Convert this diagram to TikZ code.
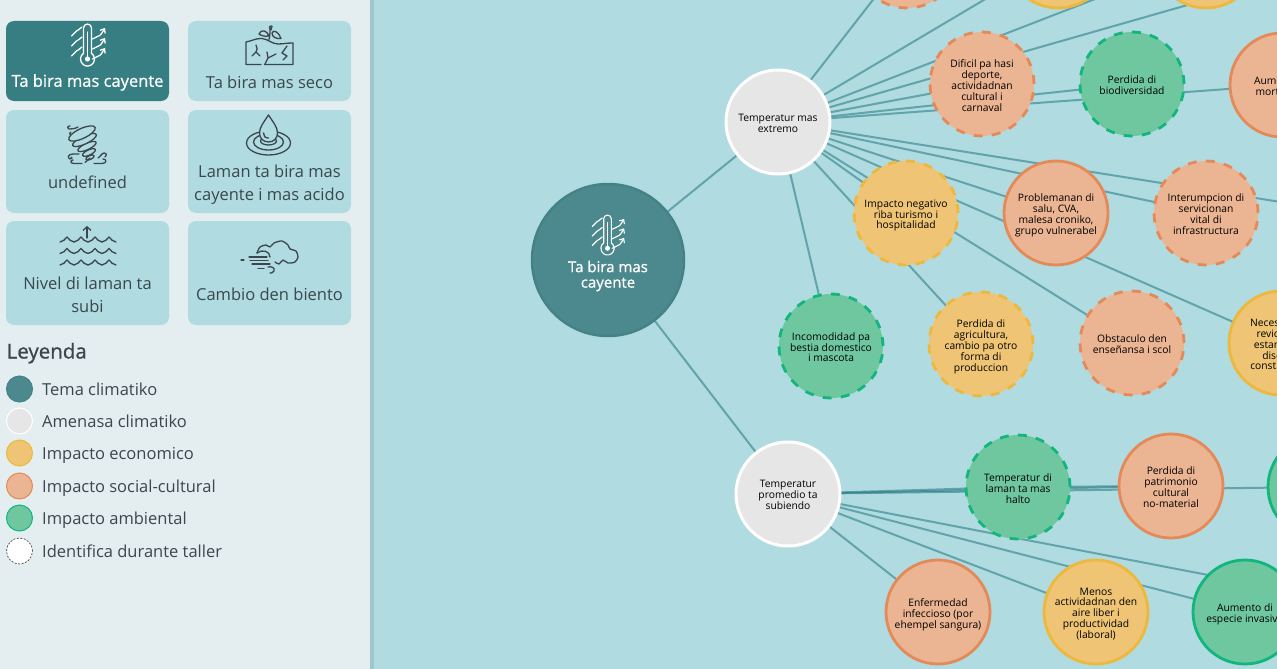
\documentclass[tikz,border=0pt]{standalone}
\usepackage{fontspec}
\setmainfont{Open Sans}
\newfontfamily\semib[FakeBold=0.9]{Open Sans}
\usetikzlibrary{arrows.meta}
\newcommand\bubtext[1]{\raisebox{-2.8pt}[\height][\depth]{\begin{tabular}{@{}c@{}}#1\end{tabular}}}
\setlength{\tabcolsep}{0pt}
\definecolor{bgc}{HTML}{B0DBE0}
\definecolor{side}{HTML}{E4EEF0}
\definecolor{shad}{HTML}{9FC7CD}
\definecolor{sel}{HTML}{367E82}
\definecolor{inkc}{HTML}{3B474C}
\definecolor{edgec}{HTML}{2F8088}
\definecolor{mainf}{HTML}{4B898E}
\definecolor{mains}{HTML}{438287}
\definecolor{thr}{HTML}{E6E6E6}
\definecolor{ecof}{HTML}{EFC575}
\definecolor{ecos}{HTML}{ECB83E}
\definecolor{socf}{HTML}{EBB492}
\definecolor{socs}{HTML}{E48A59}
\definecolor{envf}{HTML}{6FC7A0}
\definecolor{envs}{HTML}{12B67D}
\pgfdeclarelayer{under}
\pgfdeclarelayer{bgl}
\pgfsetlayers{bgl,under,main}
\tikzset{
  card/.style={fill=bgc,rounded corners=8,draw=none,inner sep=0,outer sep=0},
  cardsel/.style={fill=sel,rounded corners=8,draw=none,inner sep=0,outer sep=0},
  cardtxt/.style={text=inkc,font=\fontsize{16.5}{23}\selectfont,align=center,inner sep=0},
  cardseltxt/.style={text=white,font=\semib\fontsize{16.5}{23}\selectfont,align=center,inner sep=0},
  legc/.style={circle,minimum size=26,inner sep=0,outer sep=0,line width=1},
  legt/.style={anchor=base west,text=inkc,font=\fontsize{16.5}{20}\selectfont,inner sep=0},
  bub/.style={circle,minimum size=104,inner sep=0,outer sep=0,line width=2.8,text=black,font=\fontsize{10.3}{10.4}\selectfont},
  threat/.style={bub,fill=thr,draw=white,line width=3},
  eco/.style={bub,fill=ecof,draw=ecos},
  soc/.style={bub,fill=socf,draw=socs},
  env/.style={bub,fill=envf,draw=envs},
  wshop/.style={dash pattern=on 9pt off 9.2pt},
  link/.style={draw=edgec,draw opacity=.6,line width=2},
  ico/.style={line width=1.3,line cap=round,line join=round,inkc},
  thermo/.pic={
    \draw (-4,8.3) -- (-4,-17) arc[start angle=180,end angle=360,radius=4] -- (4,8.3)
      arc[start angle=-55,end angle=235,radius=7];
    \draw (0,-13) -- (0,12);
    \fill (0,14) circle (2.6);
    \foreach \d in {0,10,20}{
      \draw (-16,{-9+\d}) .. controls (-13,{-11+\d}) and (-13,{-13+\d}) .. (-11,{-14+\d})
         .. controls (-9,{-15+\d}) and (-8,{-16+\d}) .. (-5.5,{-18+\d});
      \draw[-{Straight Barb[length=3.5pt,width=6pt]}] (5,{-6+\d}) .. controls (7,{-6+\d}) and (9,{-9+\d}) .. (11,{-9+\d})
         .. controls (13,{-9+\d}) and (15,{-13+\d}) .. (17.5,{-17+\d});
    }
  }
}
\begin{document}
\begin{tikzpicture}[x=1pt,y=-1pt]
\useasboundingbox (0,0) rectangle (1277,669);
\clip (0,0) rectangle (1277,669);
\begin{pgfonlayer}{bgl}
\fill[bgc] (0,0) rectangle (1277,669);
\fill[shad] (370,0) rectangle (374,669);
\fill[side] (0,0) rectangle (370,669);
\end{pgfonlayer}
% cards
\fill[cardsel] (6,21) rectangle (169,101);
\fill[card] (188,21) rectangle (351,101);
\fill[card] (6,110) rectangle (169,213);
\fill[card] (188,110) rectangle (351,213);
\fill[card] (6,221) rectangle (169,325);
\fill[card] (188,221) rectangle (351,325);
\node[cardseltxt] (t1) at (87.5,82.5) {Ta bira mas cayente};
\node[cardtxt] (t2) at (269.5,82.5) {Ta bira mas seco};
\node[cardtxt] (t3) at (87.5,182) {undefined};
\node[cardtxt] (t4) at (269.5,184.5) {Laman ta bira mas\\cayente i mas acido};
\node[cardtxt] (t5) at (87.5,294.5) {Nivel di laman ta\\subi};
\node[cardtxt] (t6) at (269.5,294) {Cambio den biento};
% icons
\pic[white,line width=1.3,line cap=round,line join=round] at (87.5,45) {thermo};
\begin{scope}[ico]
 % cracked ground
 \draw (261,64.5) -- (246,64.5) -- (246,42) .. controls (252,41) and (256,38) .. (262,38.5) .. controls (268,39) and (272,44) .. (278,44) .. controls (283,44) and (286,43) .. (293,43) -- (293,64.5) -- (264.5,64.5);
 \draw (269,39.5) .. controls (270,36) and (270,32) .. (270,28);
 \draw (269,36) .. controls (264,37) and (260,35) .. (259,34) .. controls (261,29) and (267,30) .. (269,36);
 \draw (271,30) .. controls (269,28) and (269,25) .. (271,26) .. controls (274,26) and (270,28) .. (271,30);
 \draw (272,33) .. controls (273,29) and (279,32) .. (281,38.5) .. controls (276,39) and (272,37) .. (272,33);
 \draw (256,45) .. controls (257,48) and (258,50) .. (256,52) -- (252,56);
 \draw (256,52) -- (260,56);
 \draw (265,64) -- (268,58) -- (267,52);
 \draw (268,58) -- (276,54);
 \draw (287,46) -- (282,53) -- (287,56) -- (283,60);
 % tornado
 \foreach \cx/\cy/\rx/\ry in {90/157.5/4.5/2,89/152.5/7/2.6,87/146.5/10/3.2,84.5/140/13/4,82/133.5/14.5/5}{
   \draw[fill=bgc,rotate around={25:(\cx,\cy)}] (\cx,\cy) ellipse[x radius=\rx,y radius=\ry];
 }
 \draw (85,162.5) -- (90,158);
 \draw (78,127) .. controls (75,129) and (70,129) .. (69,129) .. controls (67,129) and (67,126) .. (70,126);
 \draw (71,132) .. controls (69,132) and (69,135) .. (71,135);
 \draw (79,154) -- (73,154) .. controls (68,154) and (67,158) .. (70,159) .. controls (72,159) and (73,157) .. (71,157);
 \draw (82,163.5) -- (74,163.5) .. controls (70,163.5) and (70,160) .. (73,160);
 \draw (94,163.5) -- (102,163.5) .. controls (107,163.5) and (107,159) .. (103,159);
 \draw (98,158) .. controls (100,157) and (102,153) .. (104,153) .. controls (107,153) and (107,156) .. (105,157);
 % ripples and drop
 \draw (268.5,143) ellipse[x radius=22,y radius=12];
 \draw (268.5,142) ellipse[x radius=15,y radius=8];
 \draw (268.5,141) ellipse[x radius=8,y radius=4];
 \draw[fill=bgc] (268.5,115) .. controls (264,122) and (259.5,127) .. (259.5,133) .. controls (259.5,138) and (263,142) .. (268.5,142) .. controls (274,142) and (277.5,138) .. (277.5,133) .. controls (277.5,127) and (273,122) .. (268.5,115);
 \draw (263.5,133) .. controls (263.5,136) and (265,138) .. (268.5,138);
 % waves
 \foreach \wy in {242,253.5,265}{
  \foreach \wx in {60,74,88,102}{
   \draw (\wx,\wy) .. controls ({\wx+3},\wy) and ({\wx+5},{\wy-3}) .. ({\wx+7},{\wy-5}) .. controls ({\wx+9},{\wy-3}) and ({\wx+11},\wy) .. ({\wx+14},\wy);
  }
 }
 \draw[-{Straight Barb[length=3.5pt,width=8pt]}] (87,238) -- (87,226);
 % cloud and wind
 \draw plot[smooth] coordinates {(257,253)(260,247)(266,245)(270,247)(274,243)(282,241)(288,245)(290,249)(296,251)(298,257)(295,262)(288,263)(283,260)(279,264)(275,262)};
 \draw (257,253) .. controls (262,249) and (270,251) .. (270,257);
 \draw (249,257) -- (267,257);
 \draw (250,260.5) -- (268,260.5);
 \draw (252,264) -- (270,264);
 \draw (268,267) .. controls (272,266) and (275,268) .. (274,271) .. controls (273,273) and (271,273) .. (270,273);
 \draw (258,268.5) -- (264,268.5);
 \draw (241,260) -- (244,260);
\end{scope}
% legend
\node[anchor=base west,inner sep=0,text=inkc,font=\semib\fontsize{20.5}{24}\selectfont] (lh) at (6.5,358.5) {Leyenda};
\node[legc,fill=mainf,draw=mains] (l1) at (19.5,389) {};
\node[legc,fill=thr,draw=white] (l2) at (19.5,421) {};
\node[legc,fill=ecof,draw=ecos] (l3) at (19.5,453) {};
\node[legc,fill=socf,draw=socs] (l4) at (19.5,486) {};
\node[legc,fill=envf,draw=envs] (l5) at (19.5,518) {};
\node[legc,fill=white,draw=black!70,dash pattern=on 2pt off 1.5pt,line width=.7] (l6) at (19.5,551) {};
\node[legt] (lt1) at (42,395) {Tema climatiko};
\node[legt] (lt2) at (42,427) {Amenasa climatiko};
\node[legt] (lt3) at (42,459) {Impacto economico};
\node[legt] (lt4) at (42,492) {Impacto social-cultural};
\node[legt] (lt5) at (42,524) {Impacto ambiental};
\node[legt] (lt6) at (42,557) {Identifica durante taller};
% main theme
\node[circle,minimum size=152,inner sep=0,outer sep=0,fill=mainf,draw=mains,line width=2.5] (main) at (608,260) {};
\pic[white,line width=1.1,line cap=round,line join=round,scale=.95] at (607.5,235) {thermo};
\node[text=white,align=center,inner sep=0,font=\semib\fontsize{15}{15.5}\selectfont] (maint) at (608,276) {Ta bira mas\\cayente};
% threats
\node[threat] (ext) at (778,122) {\bubtext{Temperatur mas\\extremo}};
\node[threat] (pro) at (788,494) {\bubtext{Temperatur\\promedio ta\\subiendo}};
% impacts
\node[soc,wshop] (top1) at (907,-44) {};
\node[eco] (top2) at (1058,-44) {};
\node[eco] (top3) at (1206,-44) {};
\node[soc,wshop] (dif) at (982,84) {\bubtext{Dificil pa hasi\\deporte,\\actividadnan\\cultural i\\carnaval}};
\node[env,wshop] (bio) at (1132,84) {\bubtext{Perdida di\\biodiversidad}};
\node[soc] (aum) at (1282,85) {\bubtext{Aumento di\\mortalidad}};
\node[eco,wshop] (tur) at (906,213) {\bubtext{Impacto negativo\\riba turismo i\\hospitalidad}};
\node[soc] (sal) at (1056,213) {\bubtext{Problemanan di\\salu, CVA,\\malesa croniko,\\grupo vulnerabel}};
\node[soc,wshop] (inf) at (1206,213) {\bubtext{Interumpcion di\\servicionan\\vital di\\infrastructura}};
\node[env,wshop] (bes) at (831,346) {\bubtext{Incomodidad pa\\bestia domestico\\i mascota}};
\node[eco,wshop] (agr) at (981,344) {\bubtext{Perdida di\\agricultura,\\cambio pa otro\\forma di\\produccion}};
\node[soc,wshop] (ens) at (1132,343) {\bubtext{Obstaculo den\\enseñansa i scol}};
\node[eco] (nec) at (1281,343) {\bubtext{Necesidad di\\revicion di\\estandar di\\diseño i\\construccion}};
\node[env,wshop] (lam) at (1018,487) {\bubtext{Temperatur di\\laman ta mas\\halto}};
\node[soc] (pat) at (1171,486) {\bubtext{Perdida di\\patrimonio\\cultural\\no-material}};
\node[env] (grn) at (1320,487) {};
\node[soc] (enf) at (938,612) {\bubtext{Enfermedad\\infeccioso (por\\ehempel sangura)}};
\node[eco] (men) at (1096,612) {\bubtext{Menos\\actividadnan den\\aire liber i\\productividad\\(laboral)}};
\node[env] (inv) at (1245,612) {\bubtext{Aumento di\\especie invasivo}};
\coordinate (off1) at (1359,-44);
\coordinate (off2) at (1400,221);
\coordinate (off3) at (1400,612);
\begin{pgfonlayer}{under}
\foreach \a/\b in {main/ext,main/pro,
  ext/top1,ext/top2,ext/top3,ext/off1,ext/dif,ext/bio,ext/aum,ext/off2,ext/inf,ext/sal,ext/nec,ext/ens,ext/tur,ext/agr,ext/bes,
  pro/lam,pro/pat,pro/grn,lam/pat,pro/off3,pro/inv,pro/men,pro/enf}{
  \draw[link] (\a.center) -- (\b.center);
}
\end{pgfonlayer}
\end{tikzpicture}
\end{document}
